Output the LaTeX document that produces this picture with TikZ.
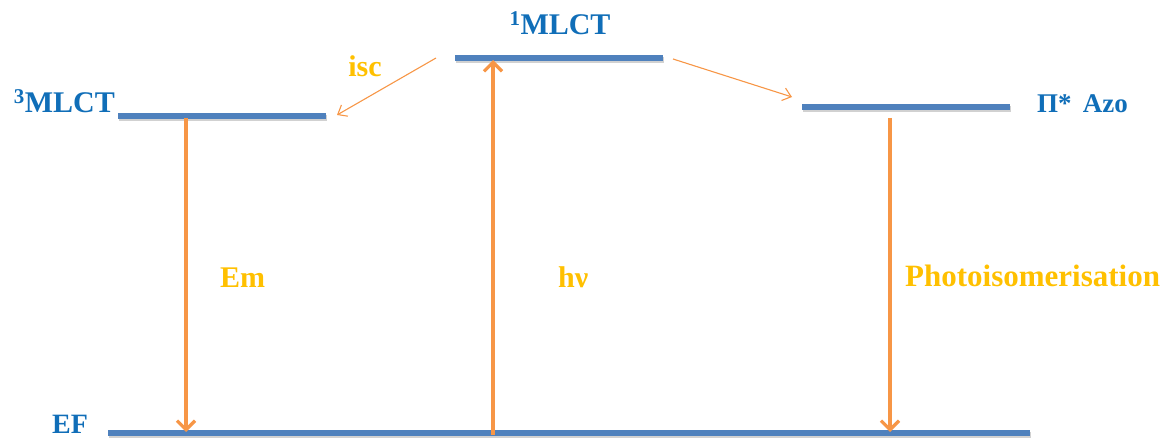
\documentclass[tikz,border=0pt]{standalone}
\usepackage{fontspec}
\setmainfont{Liberation Serif}
\usetikzlibrary{arrows.meta}
\begin{document}
\begin{tikzpicture}[x=1pt, y=-1pt, line cap=butt]
  \definecolor{levelblue}{RGB}{79,129,189}
  \definecolor{textblue}{RGB}{16,110,184}
  \definecolor{arroworange}{RGB}{247,150,70}
  \definecolor{labelyellow}{RGB}{255,192,0}
  \tikzset{
    level/.style={line width=5.5pt, levelblue},
    trans/.style={line width=3.3pt, arroworange, -{Straight Barb[length=9pt,width=18pt,line width=3.3pt]}},
    xfer/.style={line width=1.1pt, arroworange, -{Straight Barb[length=8pt,width=13pt,line width=1.1pt]}},
    statelbl/.style={textblue, font=\fontsize{30}{36}\selectfont\bfseries, inner sep=0pt},
    translbl/.style={labelyellow, font=\fontsize{30}{36}\selectfont\bfseries, inner sep=0pt}
  }
  \useasboundingbox (0,0) rectangle (1165,438);
  % energy levels
  \coordinate (T1a) at (118,116);
  \coordinate (T1b) at (326,116);
  \coordinate (S1a) at (455,58);
  \coordinate (S1b) at (663,58);
  \coordinate (AZa) at (802,107);
  \coordinate (AZb) at (1010,107);
  \coordinate (GSa) at (108,433);
  \coordinate (GSb) at (1030,433);
  \foreach \a/\b in {T1a/T1b,S1a/S1b,AZa/AZb,GSa/GSb}{
    \draw[line width=5.5pt, black!18] ([shift={(1,2)}]\a) -- ([shift={(1,2)}]\b);
    \draw[level] (\a) -- (\b);
  }
  % transitions
  \coordinate (emtop) at (186,118);
  \coordinate (embot) at (186,432);
  \coordinate (hvbot) at (493,435);
  \coordinate (hvtop) at (493,60);
  \coordinate (pitop) at (890,118);
  \coordinate (pibot) at (890,432);
  \draw[trans] (emtop) -- (embot);
  \draw[trans] (hvbot) -- (hvtop);
  \draw[trans] (pitop) -- (pibot);
  \coordinate (iscA) at (436,58);
  \coordinate (iscB) at (337,115);
  \coordinate (azA) at (673,59);
  \coordinate (azB) at (792,97);
  \draw[xfer] (iscA) -- (iscB);
  \draw[xfer] (azA) -- (azB);
  % labels
  \node[statelbl, anchor=base east] (lT1) at (115,113) {\textsuperscript{3}MLCT};
  \node[statelbl, anchor=base] (lS1) at (560,35) {\textsuperscript{1}MLCT};
  \node[statelbl, anchor=base west, font=\fontsize{27}{32}\selectfont\bfseries] (lAZ) at (1037,113) {Π*\, Azo};
  \node[statelbl, anchor=base west, font=\fontsize{28}{32}\selectfont\bfseries] (lGS) at (52,433) {EF};
  \node[translbl, anchor=base] (lisc) at (365,77) {isc};
  \node[translbl, anchor=base west] (lem) at (220,288) {Em};
  \node[translbl, anchor=base west] (lhv) at (558,288) {hν};
  \node[translbl, anchor=base west, font=\fontsize{31}{36}\selectfont\bfseries] (lpi) at (905,287) {Photoisomerisation};
\end{tikzpicture}
\end{document}
